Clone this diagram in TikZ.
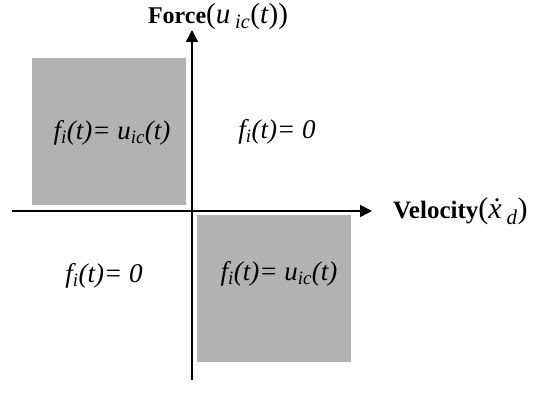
\documentclass[tikz,border=0pt]{standalone}
\usepackage{fontspec}
\setmainfont{Liberation Serif}
\usetikzlibrary{arrows.meta, positioning}

\begin{document}
\begin{tikzpicture}[
		x=1pt, y=1pt,
		% estilos
		zone/.style = {fill=black!30, draw=none},
		law/.style = {font=\fontsize{27}{30}\selectfont\itshape, inner sep=0pt},
		axlabel/.style = {font=\fontsize{24}{28}\selectfont, inner sep=0pt},
		axis/.style = {line width=1.6pt, -{Triangle[length=12pt, width=12pt]}}
		]
		\useasboundingbox (0,0) rectangle (543,393);
		
		% --- ZONAS SOMBREADAS ---
		\fill [zone] (32,188) rectangle (186,335);
		\fill [zone] (197,31) rectangle (351,178);
		
		% --- EJES ---
		\coordinate (o) at (192,182);
		\coordinate (v_end) at (372,182);
		\coordinate (v_start) at (12,182);
		\coordinate (f_end) at (192,363);
		\coordinate (f_start) at (192,13);
		\draw [axis] (v_start) -- (v_end);
		\draw [axis] (f_start) -- (f_end);
		
		% Etiquetas de ejes
		\node [axlabel] (force) at (218,376) {\textbf{Force}{\fontsize{29}{30}\selectfont(\textit{u}\,\textsubscript{\textit{ic}}(\textit{t}))}};
		\node [axlabel, font=\fontsize{25}{28}\selectfont, right=21pt of v_end] (velocity) {\textbf{Velocity}{\fontsize{30}{30}\selectfont(\textit{\.x}\,\textsubscript{\textit{d}})}};
		
		% --- LEYES DE CONTROL ---
		\node [law] (q2) at (112,260) {f\textsubscript{i}(t)= u\textsubscript{ic}(t)};
		\node [law] (q1) at (277,261) {f\textsubscript{i}(t)= 0};
		\node [law] (q3) at (104,117) {f\textsubscript{i}(t)= 0};
		\node [law] (q4) at (279,119) {f\textsubscript{i}(t)= u\textsubscript{ic}(t)};
		
	\end{tikzpicture}
\end{document}
